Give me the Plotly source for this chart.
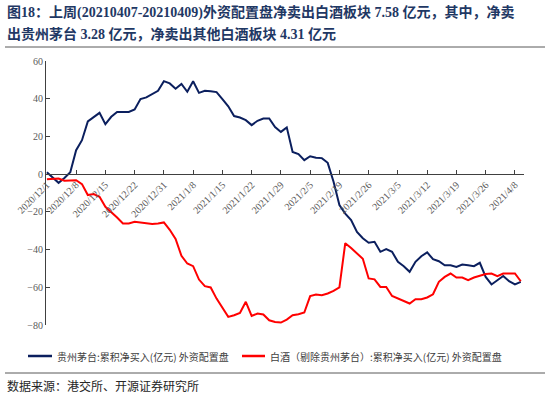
import plotly.graph_objects as go

tick_labels = ["2020/12/1", "2020/12/8", "2020/12/15", "2020/12/22", "2020/12/31",
               "2021/1/8", "2021/1/15", "2021/1/22", "2021/1/29", "2021/2/5",
               "2021/2/19", "2021/2/26", "2021/3/5", "2021/3/12", "2021/3/19",
               "2021/3/26", "2021/4/8"]

moutai = [1, -2, -4.6, -2, 1, 12.7, 18, 28, 30.4, 32.5,
          26.5, 30.4, 33, 33, 33, 34.3, 39.8, 40.7, 42.3, 44.2,
          49.3, 48.1, 45.3, 47.8, 43.7, 49.3, 43.1, 44.2, 44, 43.5,
          39.8, 36, 30.8, 30, 28.6, 26, 28.3, 29.5, 29.5, 25,
          22.4, 24.8, 11.8, 10.6, 7.4, 9.5, 8.7, 8.5, 6, -4,
          -16.4, -20.9, -24.4, -30.6, -34, -36.4, -35.9, -41.2, -39.8, -41.2,
          -46.5, -48.8, -51.8, -46.5, -43.5, -41.5, -45.1, -46.2, -48.3, -48.3,
          -49.2, -47.9, -48.3, -48.8, -47, -54.5, -58.5, -56.2, -54, -56.8,
          -58.5, -57.1]

baijiu = [-2.7, -2.5, -2.3, -3.5, -3.5, -3.2, -5.3, -11.1, -10.6, -12,
          -17.3, -20, -23, -26.2, -26.2, -25.3, -25.6, -26.2, -26.5, -26.2,
          -25.6, -29.5, -34.4, -43.3, -47.4, -48.8, -55.9, -59.4, -60.1, -66,
          -70.7, -75.7, -74.8, -73.6, -67.7, -75.2, -73.9, -74.4, -77.5, -78.4,
          -78.7, -77.1, -74.8, -74.3, -73.4, -64.7, -63.8, -64.2, -63.3, -61.9,
          -60, -36.6, -39.2, -41.9, -44.9, -55.3, -55.8, -59.8, -59.8, -64.6,
          -65.8, -67.2, -68.6, -66.3, -66.3, -65.4, -63.7, -57.1, -54.5, -52.7,
          -54.8, -54.8, -56.2, -54.8, -53.9, -53, -52.7, -54.1, -52.7, -52.7,
          -52.7, -56.8]

series_names = ["贵州茅台:累积净买入(亿元) 外资配置盘",
                "白酒（剔除贵州茅台）:累积净买入(亿元) 外资配置盘"]
series_colors = ["#0B1F5E", "#FF0000"]

x_idx = list(range(len(moutai)))
tick_pos = [i * 5 for i in range(len(tick_labels))]

serif = "Liberation Serif, Noto Sans CJK SC"
cjk = "Noto Sans CJK SC"

W, H = 550, 397
ML, MR, MT, MB = 46, 26, 61, 72
PW, PH = W - ML - MR, H - MT - MB


def px(xp):
    return (xp - ML) / PW


def py(yp):
    return (H - MB - yp) / PH


fig = go.Figure()
for vals, nm, col in zip([moutai, baijiu], series_names, series_colors):
    fig.add_trace(go.Scatter(x=x_idx, y=vals, mode="lines", name=nm,
                             line=dict(color=col, width=2)))

fig.update_layout(
    width=W, height=H,
    margin=dict(l=ML, r=MR, t=MT, b=MB, autoexpand=False),
    paper_bgcolor="white", plot_bgcolor="white",
    showlegend=False,
    xaxis=dict(range=[-0.15, 81.55], tickmode="array", tickvals=tick_pos, ticktext=tick_labels,
               tickangle=-45, showgrid=False, zeroline=False, showline=True, automargin=False,
               linecolor="#404040", linewidth=1, ticks="inside", ticklen=4, tickcolor="#404040",
               anchor="free", position=80 / 140,
               tickfont=dict(family=serif, size=10, color="#595959")),
    yaxis=dict(range=[-80, 60], dtick=20, tick0=0, showgrid=False, zeroline=False,
               showline=True, linecolor="#404040", linewidth=1, ticks="inside", ticklen=4,
               tickcolor="#404040", automargin=False,
               tickfont=dict(family=serif, size=10, color="#595959")),
)

# manual legend
legend_items = [(28, 52, 55), (242, 265, 268)]
for (x0, x1, xt), nm, col in zip(legend_items, series_names, series_colors):
    fig.add_shape(type="line", xref="paper", yref="paper", x0=px(x0), x1=px(x1),
                  y0=py(356), y1=py(356), line=dict(color=col, width=2.5))
    fig.add_annotation(xref="paper", yref="paper", x=px(xt), y=py(356), xanchor="left",
                       yanchor="middle", showarrow=False, text=nm,
                       font=dict(family=cjk, size=10, color="#404040"))

title_color = "#1F3864"
fig.add_annotation(xref="paper", yref="paper", x=px(5), y=py(13), xanchor="left", yanchor="middle",
                   showarrow=False, align="left",
                   text="<b>图18：上周(20210407-20210409)外资配置盘净卖出白酒板块 7.58 亿元，其中，净卖</b>",
                   font=dict(family=serif, size=14, color=title_color))
fig.add_annotation(xref="paper", yref="paper", x=px(5), y=py(34), xanchor="left", yanchor="middle",
                   showarrow=False, align="left",
                   text="<b>出贵州茅台 3.28 亿元，净卖出其他白酒板块 4.31 亿元</b>",
                   font=dict(family=serif, size=14, color=title_color))
fig.add_annotation(xref="paper", yref="paper", x=px(5), y=py(385), xanchor="left", yanchor="middle",
                   showarrow=False, align="left",
                   text="数据来源：港交所、开源证券研究所",
                   font=dict(family=cjk, size=12, color="#262626"))

fig.add_shape(type="line", xref="paper", yref="paper", x0=px(5), x1=px(545), y0=py(47), y1=py(47),
              line=dict(color="#595959", width=1))
fig.add_shape(type="line", xref="paper", yref="paper", x0=px(5), x1=px(545), y0=py(373), y1=py(373),
              line=dict(color="#595959", width=1))

fig.write_html("out.html", config={"displayModeBar": False},
               post_script="document.body.style.margin='0';document.body.style.overflow='hidden';")
